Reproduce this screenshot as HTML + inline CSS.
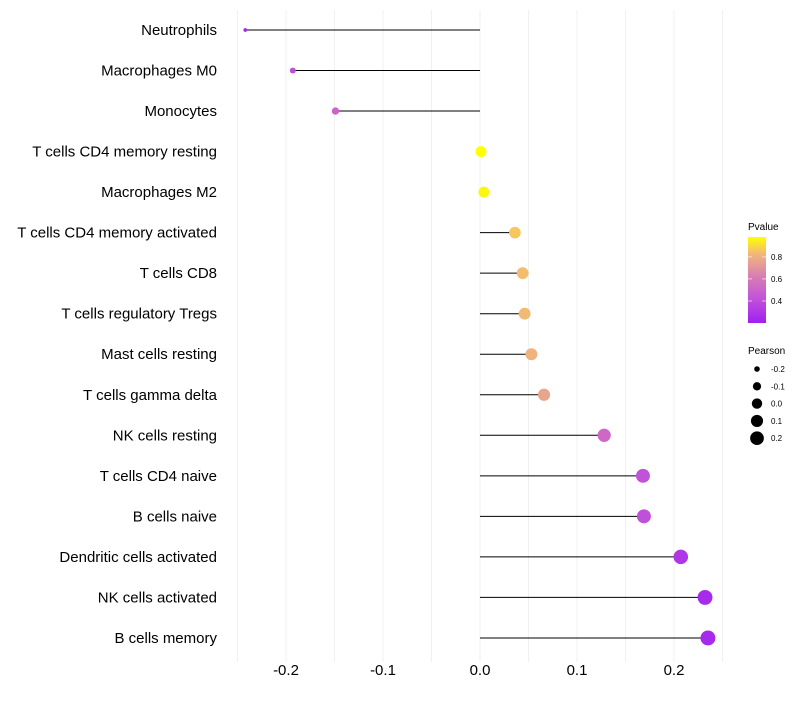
<!DOCTYPE html>
<html><head><meta charset="utf-8"><style>
body{margin:0;background:#fff;font-family:"Liberation Sans",sans-serif}
</style></head><body>
<svg id="chart" width="800" height="700" xmlns="http://www.w3.org/2000/svg" font-family="Liberation Sans, sans-serif">
<g id="grid"></g>
<g id="marks"></g>
<g id="ylabels"></g>
<g id="xlabels"></g>
<g id="legend">
<defs><linearGradient id="pg" x1="0" y1="1" x2="0" y2="0">
<stop offset="0" stop-color="#a020f0"/><stop offset="0.3" stop-color="#c455d8"/><stop offset="0.55" stop-color="#d880b0"/><stop offset="0.8" stop-color="#f2b67a"/><stop offset="1" stop-color="#ffff00"/></linearGradient></defs>
<text x="748" y="230" font-size="10">Pvalue</text>
<rect x="748" y="237" width="18" height="86" fill="url(#pg)"/>
<g id="cbticks"></g>
<text x="748" y="354" font-size="10">Pearson</text>
<g id="sizelegend"></g>
</g>
</svg>
<script>
const categories=["Neutrophils","Macrophages M0","Monocytes","T cells CD4 memory resting","Macrophages M2","T cells CD4 memory activated","T cells CD8","T cells regulatory  Tregs ","Mast cells resting","T cells gamma delta","NK cells resting","T cells CD4 naive","B cells naive","Dendritic cells activated","NK cells activated","B cells memory"];
const pearson=[-0.242,-0.193,-0.149,0.001,0.004,0.036,0.044,0.046,0.053,0.066,0.128,0.168,0.169,0.207,0.232,0.235];
const pvalue=[0.22,0.4,0.5,0.98,0.96,0.86,0.84,0.83,0.81,0.76,0.52,0.42,0.41,0.3,0.25,0.24];
const xTicks=[-0.2,-0.1,0.0,0.1,0.2];
const xTickLabels=["-0.2","-0.1","0.0","0.1","0.2"];
const cbTicks=[0.4,0.6,0.8];
const sizeTicks=[-0.2,-0.1,0.0,0.1,0.2];
const NS="http://www.w3.org/2000/svg";
const X=v=>480+v*970;
const Y=i=>30+i*40.53;
const R=v=>Math.sqrt(Math.max(1,30+110*v));
const pmin=0.2,pmax=0.98;
const stops=[[0,[160,32,240]],[0.3,[196,85,216]],[0.55,[216,128,176]],[0.8,[242,182,122]],[1,[255,255,0]]];
function col(p){let t=Math.min(1,Math.max(0,(p-pmin)/(pmax-pmin)));for(let k=1;k<stops.length;k++){if(t<=stops[k][0]){const a=stops[k-1],b=stops[k],f=(t-a[0])/(b[0]-a[0]);return"rgb("+a[1].map((c,j)=>Math.round(c+(b[1][j]-c)*f)).join(",")+")";}}return"rgb(255,255,0)";}
function mk(tag,attrs,parent){const e=document.createElementNS(NS,tag);for(const k in attrs)e.setAttribute(k,attrs[k]);document.getElementById(parent).appendChild(e);return e;}
for(let v=-0.25;v<=0.251;v+=0.05){
 const e=mk("line",{x1:X(v),x2:X(v),y1:10,y2:662,stroke:"#f0f0f0","stroke-width":1},"grid");
 
 
}
categories.forEach((c,i)=>{
 const s=mk("line",{x1:X(0),x2:X(pearson[i]),y1:Y(i),y2:Y(i),stroke:"#000","stroke-width":1},"marks");
 
 
 const d=mk("circle",{cx:X(pearson[i]),cy:Y(i),r:R(pearson[i]),fill:col(pvalue[i])},"marks");
 
 
 const t=mk("text",{x:217,y:Y(i)+5,"text-anchor":"end","font-size":15,fill:"#000"},"ylabels");
 t.textContent=c;
 
 
});
xTicks.forEach((v,i)=>{
 const t=mk("text",{x:X(v),y:675,"text-anchor":"middle","font-size":15,fill:"#000"},"xlabels");
 t.textContent=xTickLabels[i];
 
 
});
cbTicks.forEach(v=>{
 const y=323-(v-pmin)/(pmax-pmin)*86;
 const l=mk("line",{x1:748,x2:752,y1:y,y2:y,stroke:"#fff","stroke-opacity":0.6},"cbticks");
 
 
 const l2=mk("line",{x1:762,x2:766,y1:y,y2:y,stroke:"#fff","stroke-opacity":0.6},"cbticks");
 
 
 const t=mk("text",{x:771,y:y+3,"font-size":8},"cbticks");
 t.textContent=v.toFixed(1);
 
 
});
sizeTicks.forEach((v,i)=>{
 const y=369+i*17.3;
 const c=mk("circle",{cx:757,cy:y,r:Math.max(2.8,R(v)*0.95),fill:"#000"},"sizelegend");
 
 
 const t=mk("text",{x:771,y:y+3,"font-size":8},"sizelegend");
 t.textContent=v.toFixed(1);
 
 
});
</script>
</body></html>
